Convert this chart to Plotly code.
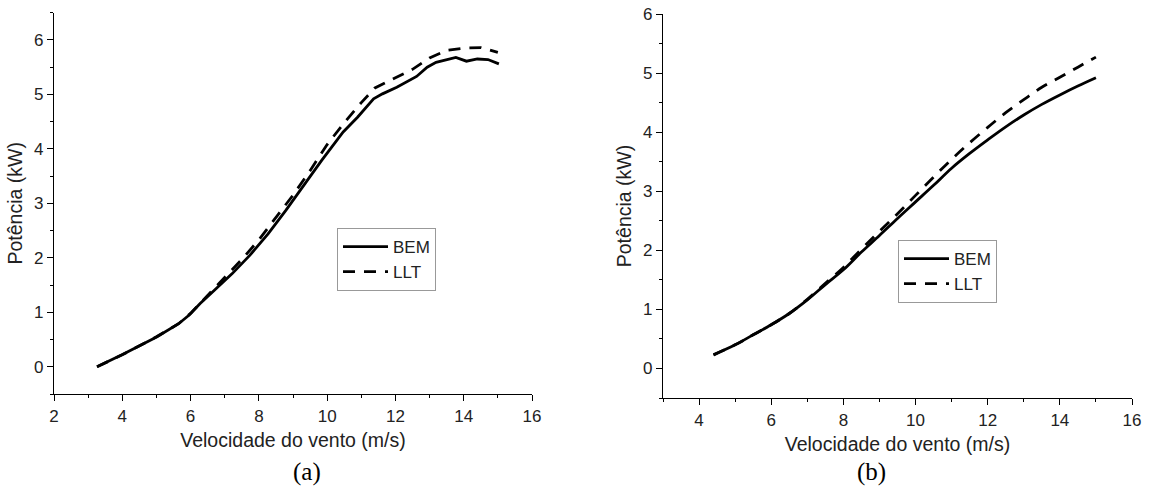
import plotly.graph_objects as go

# Panel (a)
a_bem_x = [3.26, 4.02, 5.02, 5.65, 5.96, 6.28, 6.69, 7.22, 7.74, 8.27, 8.79, 9.31, 9.84, 10.47,
           10.89, 11.36, 11.62, 12.04, 12.62, 12.93, 13.19, 13.77, 14.08, 14.40, 14.71, 15.03]
a_bem_y = [0.0, 0.23, 0.55, 0.79, 0.95, 1.16, 1.40, 1.71, 2.05, 2.44, 2.87, 3.33, 3.79, 4.31,
           4.58, 4.92, 5.01, 5.13, 5.33, 5.50, 5.59, 5.68, 5.61, 5.65, 5.64, 5.56]
a_llt_x = [3.26, 4.0, 5.0, 5.65, 6.0, 6.5, 7.0, 7.5, 8.0, 8.5, 9.0, 9.5, 10.0, 10.5, 11.0, 11.4,
           12.0, 12.5, 13.0, 13.5, 14.0, 14.5, 15.0]
a_llt_y = [0.0, 0.22, 0.55, 0.79, 0.98, 1.31, 1.62, 1.97, 2.33, 2.73, 3.15, 3.60, 4.08, 4.48,
           4.85, 5.12, 5.30, 5.46, 5.67, 5.81, 5.85, 5.86, 5.77]

# Panel (b)
b_x = [4.4, 5.0, 5.5, 6.0, 6.5, 7.0, 7.5, 8.0, 8.5, 9.0, 9.5, 10.0, 10.5, 11.0, 11.5, 12.0,
       12.5, 13.0, 13.5, 14.0, 14.5, 15.0]
b_bem_y = [0.23, 0.40, 0.57, 0.74, 0.93, 1.16, 1.42, 1.67, 1.97, 2.25, 2.54, 2.82, 3.10, 3.39,
           3.64, 3.87, 4.09, 4.29, 4.47, 4.63, 4.78, 4.92]
b_llt_y = [0.23, 0.40, 0.57, 0.74, 0.93, 1.17, 1.44, 1.71, 2.02, 2.32, 2.62, 2.93, 3.24, 3.54,
           3.82, 4.08, 4.33, 4.55, 4.76, 4.93, 5.10, 5.27]

series_names = ["BEM", "LLT"]
x_title = "Velocidade do vento (m/s)"
y_title = "Potência (kW)"
captions = ["(a)", "(b)"]

W, H = 1153, 493
FONT = "Arial, Liberation Sans, sans-serif"
DASH = "12px,9px"

fig = go.Figure()
fig.add_trace(go.Scatter(x=a_bem_x, y=a_bem_y, mode="lines", name=series_names[0],
                         line=dict(color="black", width=2.8), xaxis="x", yaxis="y", legend="legend"))
fig.add_trace(go.Scatter(x=a_llt_x, y=a_llt_y, mode="lines", name=series_names[1],
                         line=dict(color="black", width=2.8, dash=DASH), xaxis="x", yaxis="y", legend="legend"))
fig.add_trace(go.Scatter(x=b_x, y=b_bem_y, mode="lines", name=series_names[0],
                         line=dict(color="black", width=2.8, shape="spline"), xaxis="x2", yaxis="y2", legend="legend2"))
fig.add_trace(go.Scatter(x=b_x, y=b_llt_y, mode="lines", name=series_names[1],
                         line=dict(color="black", width=2.8, dash=DASH, shape="spline"), xaxis="x2", yaxis="y2", legend="legend2"))

def px_x(p):
    return p / W

def px_y(p):
    return 1 - p / H

common = dict(showline=True, linecolor="black", linewidth=1.3, ticks="outside", ticklen=6,
              tickwidth=1.3, tickcolor="black", showgrid=False, zeroline=False, automargin=False,
              tickfont=dict(family=FONT, size=17, color="#222"),
              title_font=dict(family=FONT, size=19.5, color="#222"))

fig.update_layout(
    width=W, height=H, plot_bgcolor="white", paper_bgcolor="white",
    margin=dict(l=0, r=0, t=0, b=0),
    xaxis=dict(domain=[px_x(54), px_x(532)], range=[2, 16], dtick=2, tick0=2, anchor="y",
               minor=dict(ticks="outside", ticklen=3, dtick=1, tickcolor="black", tickwidth=1.3),
               title=dict(text=x_title, standoff=8), **common),
    yaxis=dict(domain=[px_y(394), px_y(12.7)], range=[-0.5, 6.5], dtick=1, tick0=0, anchor="x",
               minor=dict(ticks="outside", ticklen=3, dtick=0.5, tickcolor="black", tickwidth=1.3),
               title=dict(text=y_title, standoff=6), **common),
    xaxis2=dict(domain=[px_x(663), px_x(1132)], range=[3, 16], dtick=2, tick0=4, anchor="y2",
                minor=dict(ticks="outside", ticklen=3, dtick=1, tickcolor="black", tickwidth=1.3),
                title=dict(text=x_title, standoff=8), **common),
    yaxis2=dict(domain=[px_y(398), px_y(14)], range=[-0.5, 6], dtick=1, tick0=0, anchor="x2",
                minor=dict(ticks="outside", ticklen=3, dtick=0.5, tickcolor="black", tickwidth=1.3),
                title=dict(text=y_title, standoff=6), **common),
    legend=dict(x=px_x(337), y=px_y(228), xanchor="left", yanchor="top",
                bordercolor="#999", borderwidth=1, bgcolor="white",
                font=dict(family=FONT, size=17, color="#222"), itemwidth=45, tracegroupgap=0),
    legend2=dict(x=px_x(898), y=px_y(240), xanchor="left", yanchor="top",
                 bordercolor="#999", borderwidth=1, bgcolor="white",
                 font=dict(family=FONT, size=17, color="#222"), itemwidth=45, tracegroupgap=0),
    showlegend=True,
)

for cap, cx in zip(captions, [291, 888]):
    fig.add_annotation(text=cap, x=px_x(cx), y=px_y(472), xref="paper", yref="paper",
                       yanchor="middle", showarrow=False,
                       font=dict(family="Times New Roman, Liberation Serif, serif", size=25, color="black"))

fig.write_html("out.html", config={"displayModeBar": False},
               post_script="document.body.style.margin='0';document.body.style.padding='0';")
